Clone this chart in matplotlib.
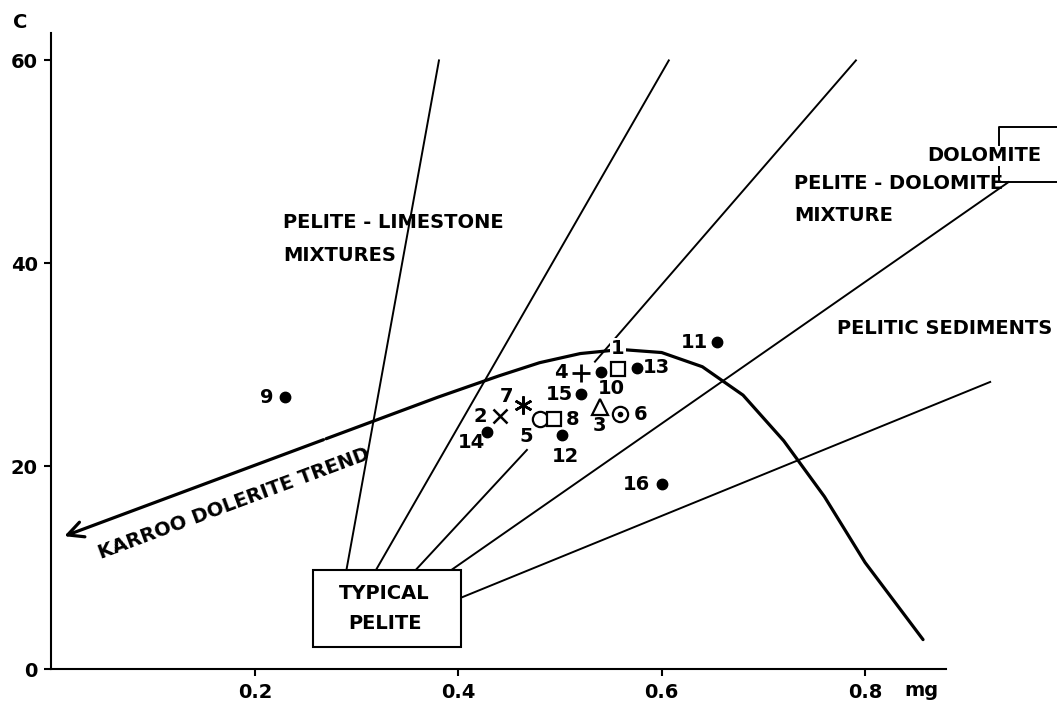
import matplotlib
matplotlib.use("Agg")
import matplotlib.pyplot as plt
from matplotlib.patches import Rectangle

# sample points: number, mg, c, marker kind, label offset (px)
sample_ids = [1, 2, 3, 4, 5, 6, 7, 8, 9, 10, 11, 12, 13, 14, 15, 16]
sample_mg = [0.557, 0.441, 0.539, 0.521, 0.480, 0.559, 0.464, 0.494,
             0.230, 0.540, 0.654, 0.502, 0.576, 0.4285, 0.521, 0.600]
sample_c = [29.6, 24.9, 25.8, 29.2, 24.6, 25.1, 26.0, 24.6,
            26.8, 29.3, 32.2, 23.1, 29.7, 23.4, 27.1, 18.2]
sample_kind = ["square", "x", "triangle", "plus", "circle", "dotcircle", "star", "square",
               "dot", "dot", "dot", "dot", "dot", "dot", "dot", "dot"]
label_dx = [0, -20, 0, -20, -13, 21, -17, 19, -19, 11, -22, 3, 19, -16, -22, -25]
label_dy = [20, 0, -18, 0, -17, 0, 9, 0, 0, -17, 0, -22, 0, -11, 0, 0]

# Karroo dolerite trend (hand-read points along the curve)
trend_mg = [0.010, 0.27, 0.38, 0.44, 0.48, 0.52, 0.56, 0.60, 0.64, 0.68, 0.72, 0.76, 0.80, 0.857]
trend_c = [13.0, 22.7, 26.8, 28.9, 30.2, 31.1, 31.5, 31.2, 29.8, 27.0, 22.5, 17.0, 10.5, 2.9]

# mixing lines radiating from the typical pelite box: (mg0, c0, mg1, c1)
mix_lines = [
    (0.290, 9.75, 0.381, 60.0),   # pelite - limestone
    (0.319, 9.75, 0.607, 60.0),
    (0.358, 9.75, 0.4675, 21.6),  # broken by the sample cluster
    (0.5344, 30.3, 0.791, 60.0),
    (0.393, 9.75, 0.941, 48.0),   # to dolomite
    (0.4034, 7.06, 0.923, 28.3),  # pelitic sediments
]

fig = plt.figure(figsize=(10.57, 7.04), dpi=100)
ax = fig.add_axes([0.0487, 0.0497, 0.8467, 0.9034])
ax.set_xlim(0, 0.88)
ax.set_ylim(0, 62.7)

for s in ["top", "right"]:
    ax.spines[s].set_visible(False)
for s in ["left", "bottom"]:
    ax.spines[s].set_linewidth(1.5)

ax.set_xticks([0.2, 0.4, 0.6, 0.8])
ax.set_xticklabels(["0.2", "0.4", "0.6", "0.8"])
ax.set_yticks([0, 20, 40, 60])
ax.tick_params(direction="out", length=5, width=1.5, labelsize=14, pad=5)
for t in ax.get_xticklabels() + ax.get_yticklabels():
    t.set_fontweight("bold")

lab = dict(fontsize=14, fontweight="bold", color="black")

# mixing lines
for x0, y0, x1, y1 in mix_lines:
    ax.plot([x0, x1], [y0, y1], color="black", lw=1.4, clip_on=False)

# trend curve with arrow
ax.plot(trend_mg[1:], trend_c[1:], color="black", lw=2.3, solid_capstyle="round")
ax.annotate("", xy=(trend_mg[0], trend_c[0]), xytext=(trend_mg[1], trend_c[1]),
            arrowprops=dict(arrowstyle="->", lw=2.3, mutation_scale=28, color="black"))

# typical pelite box
ax.add_patch(Rectangle((0.2575, 2.14), 0.4024 - 0.2575, 9.75 - 2.14, fill=True,
                       facecolor="white", edgecolor="black", lw=1.5, zorder=3))
ax.text(0.327, 7.4, "TYPICAL", ha="center", va="center", zorder=4, **lab)
ax.text(0.328, 4.5, "PELITE", ha="center", va="center", zorder=4, **lab)

# dolomite bracket
ax.plot([0.99, 0.932, 0.932], [53.4, 53.4, 51.7], color="black", lw=1.4, clip_on=False)
ax.plot([0.932, 0.932, 0.99], [49.5, 48.0, 48.0], color="black", lw=1.4, clip_on=False)
ax.text(0.917, 50.6, "DOLOMITE", ha="center", va="center", **lab)

# field labels
ax.text(0.228, 44.0, "PELITE - LIMESTONE", ha="left", va="center", **lab)
ax.text(0.228, 40.8, "MIXTURES", ha="left", va="center", **lab)
ax.text(0.73, 47.9, "PELITE - DOLOMITE", ha="left", va="center", **lab)
ax.text(0.73, 44.7, "MIXTURE", ha="left", va="center", **lab)
ax.text(0.984, 33.6, "PELITIC SEDIMENTS", ha="right", va="center", **lab)
ax.text(0.18, 16.3, "KARROO DOLERITE TREND", ha="center", va="center",
        rotation=20.4, rotation_mode="anchor", **lab)

# samples
style = {
    "square": dict(marker="s", ms=10, mfc="white", mec="black", mew=1.6),
    "x": dict(marker="x", ms=10, mec="black", mew=1.8),
    "triangle": dict(marker="^", ms=12, mfc="white", mec="black", mew=1.6),
    "plus": dict(marker="+", ms=13, mec="black", mew=2.0),
    "circle": dict(marker="o", ms=11, mfc="white", mec="black", mew=1.6),
    "dotcircle": dict(marker="o", ms=11, mfc="white", mec="black", mew=1.6),
    "star": dict(marker=(6, 2, 0), ms=13, mec="black", mew=1.8),
    "dot": dict(marker="o", ms=7.5, mfc="black", mec="black"),
}
for i, mg, c, kind, dx, dy in zip(sample_ids, sample_mg, sample_c, sample_kind, label_dx, label_dy):
    ax.plot([mg], [c], ls="none", zorder=5, **style[kind])
    if kind == "dotcircle":
        ax.plot([mg], [c], "o", ms=3, color="black", zorder=6)
    bbox = dict(facecolor="white", edgecolor="none", pad=0.5) if i == 1 else None
    ax.annotate(str(i), xy=(mg, c), xytext=(dx * 0.72, dy * 0.72), textcoords="offset points",
                ha="center", va="center", bbox=bbox, zorder=6, **lab)

fig.text(20 / 1057, 1 - 22 / 704, "C", ha="center", va="center", **lab)
fig.text(921 / 1057, 1 - 691 / 704, "mg", ha="center", va="center", **lab)

fig.savefig("out.png", dpi=100)
